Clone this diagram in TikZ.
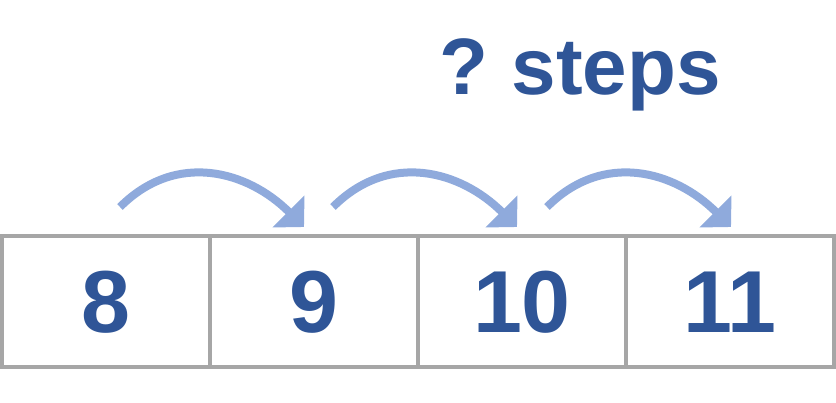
\documentclass[tikz,border=0pt]{standalone}
\usepackage{fontspec}
\setmainfont{Liberation Sans}
\usepackage{tikz}
\usetikzlibrary{arrows.meta, positioning}
\definecolor{numblue}{HTML}{2F5597}
\definecolor{hopblue}{HTML}{8FAADC}
\definecolor{boxgray}{HTML}{A6A6A6}

\begin{document}
\begin{tikzpicture}[x=1pt, y=1pt,
    cell/.style={draw=boxgray, line width=4pt, outer sep=0pt, minimum width=208pt, minimum height=131pt,
        inner sep=0pt, text=numblue, font=\fontsize{88}{90}\selectfont\bfseries},
    hop/.style={hopblue, line width=8pt, -{Triangle[length=22pt, width=44pt]}},
    node distance=0pt]
\useasboundingbox (0,0) rectangle (836,402);
\node[font=\fontsize{80}{84}\selectfont\bfseries, text=numblue, anchor=base] (title) at (580,307) {?\hspace{-6pt} steps};
% the number line: one box per number
\node[cell] (c1) at (106,100) {8};
\node[cell, right=of c1] (c2) {9};
\node[cell, right=of c2] (c3) {10};
\node[cell, right=of c3] (c4) {11};
% one hop from each box to the next
\foreach \i/\x in {1/120, 2/333, 3/547} {
    \coordinate (s\i) at (\x,195);
    \coordinate (e\i) at (\x+184,175);
    \draw[hop] (s\i) to[out=45, in=135, looseness=1.1] (e\i);
}
\end{tikzpicture}
\end{document}
